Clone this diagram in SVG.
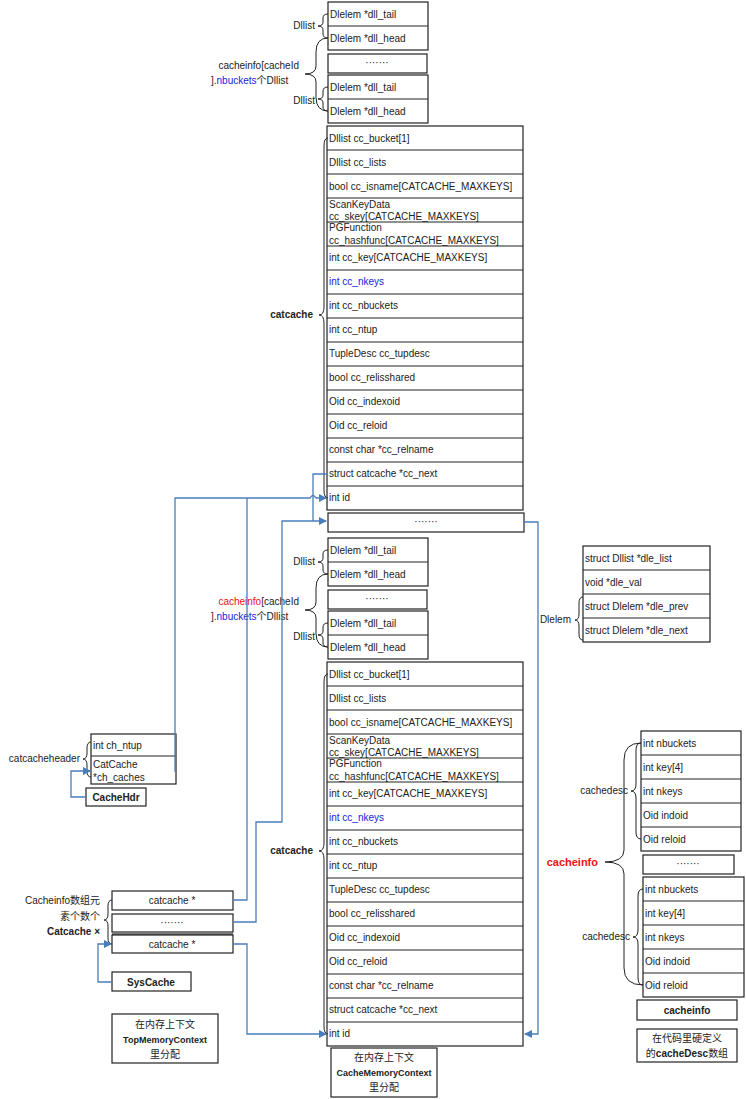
<svg xmlns="http://www.w3.org/2000/svg" width="746" height="1099" viewBox="0 0 746 1099">
<style>
text{font-family:"Liberation Sans","Noto Sans CJK SC",sans-serif;font-size:10px;fill:#222}
.b{fill:#fff;stroke:#222;stroke-width:1.2}
.r{stroke:#222;stroke-width:1}
.br{fill:none;stroke:#222;stroke-width:1}
.bl{fill:#1a1adb}
.red{fill:#f01010}
.bd{font-weight:bold}
.c{fill:none;stroke:#4a7ebb;stroke-width:1.3}
.m{text-anchor:middle}
.e{text-anchor:end}
</style>
<defs>
<marker id="a" markerWidth="8" markerHeight="8" refX="7" refY="4" orient="auto" markerUnits="userSpaceOnUse"><path d="M0,0L8,4L0,8z" fill="#4a7ebb"/></marker>
<g id="dll">
<rect class="b" x="328" y="2" width="100" height="48"/><line class="r" x1="328" y1="26" x2="428" y2="26"/>
<text x="330" y="18">Dlelem *dll_tail</text><text x="330" y="42">Dlelem *dll_head</text>
<path class="br" d="M328,14Q323,14 323,18L323,22Q323,26 318,26Q323,26 323,30L323,34Q323,38 328,38"/>
<text x="315" y="29" class="e">Dllist</text>
<rect class="b" x="328" y="54" width="99" height="19"/><text x="377" y="66" class="m">·······</text>
<rect class="b" x="328" y="75" width="100" height="48"/><line class="r" x1="328" y1="99" x2="428" y2="99"/>
<text x="330" y="91">Dlelem *dll_tail</text><text x="330" y="115">Dlelem *dll_head</text>
<path class="br" d="M328,87Q323,87 323,91L323,95Q323,99 318,99Q323,99 323,103L323,107Q323,111 328,111"/>
<text x="315" y="104" class="e">Dllist</text>
<path class="br" d="M328,38Q316,38 316,52L316,66Q316,74 305,74Q316,74 316,82L316,97Q316,111 328,111"/>
</g>
<g id="cc">
<rect class="b" x="327" y="126" width="196" height="384"/>
<g class="r">
<line x1="327" y1="150" x2="523" y2="150"/><line x1="327" y1="174" x2="523" y2="174"/><line x1="327" y1="198" x2="523" y2="198"/><line x1="327" y1="222" x2="523" y2="222"/><line x1="327" y1="246" x2="523" y2="246"/><line x1="327" y1="270" x2="523" y2="270"/><line x1="327" y1="294" x2="523" y2="294"/><line x1="327" y1="318" x2="523" y2="318"/><line x1="327" y1="342" x2="523" y2="342"/><line x1="327" y1="366" x2="523" y2="366"/><line x1="327" y1="390" x2="523" y2="390"/><line x1="327" y1="414" x2="523" y2="414"/><line x1="327" y1="438" x2="523" y2="438"/><line x1="327" y1="462" x2="523" y2="462"/><line x1="327" y1="486" x2="523" y2="486"/>
</g>
<text x="329" y="142">Dllist cc_bucket[1]</text>
<text x="329" y="166">Dllist cc_lists</text>
<text x="329" y="190">bool cc_isname[CATCACHE_MAXKEYS]</text>
<text x="329" y="208">ScanKeyData</text><text x="329" y="220">cc_skey[CATCACHE_MAXKEYS]</text>
<text x="329" y="231">PGFunction</text><text x="329" y="244">cc_hashfunc[CATCACHE_MAXKEYS]</text>
<text x="329" y="261">int cc_key[CATCACHE_MAXKEYS]</text>
<text x="329" y="285" class="bl">int cc_nkeys</text>
<text x="329" y="309">int cc_nbuckets</text>
<text x="329" y="333">int cc_ntup</text>
<text x="329" y="357">TupleDesc cc_tupdesc</text>
<text x="329" y="381">bool cc_relisshared</text>
<text x="329" y="405">Oid cc_indexoid</text>
<text x="329" y="429">Oid cc_reloid</text>
<text x="329" y="453">const char *cc_relname</text>
<text x="329" y="477">struct catcache *cc_next</text>
<text x="329" y="501">int id</text>
<path class="br" d="M328,138Q324,138 324,146L324,307Q324,315 319,315Q324,315 324,323L324,490Q324,498 328,498"/>
<text x="313" y="318" class="e bd">catcache</text>
</g>
</defs>
<g id="dllists1"><use href="#dll"/><text x="299" y="69" class="e">cacheinfo[cacheId</text><text x="211" y="84">].<tspan class="bl">nbuckets</tspan>个Dllist</text></g>
<g id="catcache1"><use href="#cc"/></g>
<g id="dots1"><rect class="b" x="328" y="513" width="196" height="19"/><text x="426" y="525" class="m">·······</text></g>
<g id="dllists2"><use href="#dll" transform="translate(0,536)"/><text x="299" y="605" class="e"><tspan class="red">cacheinfo</tspan>[cacheId</text><text x="211" y="620">].<tspan class="bl">nbuckets</tspan>个Dllist</text></g>
<g id="catcache2"><use href="#cc" transform="translate(0,536)"/></g>
<g id="mem2"><rect class="b" x="331" y="1048" width="106" height="49"/><text x="384" y="1061" class="m">在内存上下文</text><text x="384" y="1076" class="m bd" style="font-size:9px">CacheMemoryContext</text><text x="384" y="1091" class="m">里分配</text></g>
<g id="dlelem">
<rect class="b" x="583" y="546" width="127" height="96"/>
<line class="r" x1="583" y1="570" x2="710" y2="570"/><line class="r" x1="583" y1="594" x2="710" y2="594"/><line class="r" x1="583" y1="618" x2="710" y2="618"/>
<text x="585" y="562">struct Dllist *dle_list</text><text x="585" y="586">void *dle_val</text><text x="585" y="610">struct Dlelem *dle_prev</text><text x="585" y="634">struct Dlelem *dle_next</text>
<path class="br" d="M583,597Q579,597 579,603L579,614Q579,620 575,620Q579,620 579,626L579,634Q579,640 583,640"/>
<text x="571" y="623" class="e">Dlelem</text>
</g>
<g id="cachedesc1">
<rect class="b" x="641" y="731" width="100" height="120"/>
<line class="r" x1="641" y1="755" x2="741" y2="755"/><line class="r" x1="641" y1="779" x2="741" y2="779"/><line class="r" x1="641" y1="803" x2="741" y2="803"/><line class="r" x1="641" y1="827" x2="741" y2="827"/>
<text x="643" y="747">int nbuckets</text><text x="643" y="771">int key[4]</text><text x="643" y="795">int nkeys</text><text x="643" y="819">Oid indoid</text><text x="643" y="843">Oid reloid</text>
<path class="br" d="M641,743Q636,743 636,750L636,784Q636,791 631,791Q636,791 636,798L636,832Q636,839 641,839"/>
<text x="628" y="794" class="e">cachedesc</text>
</g>
<g id="dots3"><rect class="b" x="643" y="855" width="91" height="19"/><text x="688" y="867" class="m">·······</text></g>
<g id="cachedesc2">
<rect class="b" x="643" y="877" width="101" height="120"/>
<line class="r" x1="643" y1="901" x2="744" y2="901"/><line class="r" x1="643" y1="925" x2="744" y2="925"/><line class="r" x1="643" y1="949" x2="744" y2="949"/><line class="r" x1="643" y1="973" x2="744" y2="973"/>
<text x="645" y="893">int nbuckets</text><text x="645" y="917">int key[4]</text><text x="645" y="941">int nkeys</text><text x="645" y="965">Oid indoid</text><text x="645" y="989">Oid reloid</text>
<path class="br" d="M643,889Q638,889 638,896L638,930Q638,937 633,937Q638,937 638,944L638,978Q638,985 643,985"/>
<text x="630" y="940" class="e">cachedesc</text>
</g>
<g id="cacheinfo-brace">
<path class="br" d="M641,743Q624,743 624,760L624,850Q624,862 605,862Q624,862 624,874L624,968Q624,985 643,985"/>
<text x="598" y="866" class="e bd red" style="font-size:11px">cacheinfo</text>
</g>
<g id="cacheinfo-label"><rect class="b" x="637" y="1000" width="100" height="20"/><text x="687" y="1014" class="m bd">cacheinfo</text></g>
<g id="cacheinfo-note"><rect class="b" x="637" y="1029" width="100" height="33"/><text x="687" y="1042" class="m">在代码里硬定义</text><text x="687" y="1057" class="m">的<tspan class="bd">cacheDesc</tspan>数组</text></g>
<g id="cachehdr-struct">
<rect class="b" x="91" y="734" width="85" height="50"/><line class="r" x1="91" y1="756" x2="176" y2="756"/>
<text x="93" y="749">int ch_ntup</text><text x="93" y="768">CatCache</text><text x="93" y="781">*ch_caches</text>
<path class="br" d="M91,742Q87,742 87,748L87,753Q87,759 83,759Q87,759 87,765L87,771Q87,777 91,777"/>
<text x="80" y="762" class="e">catcacheheader</text>
</g>
<g id="CacheHdr"><rect class="b" x="86" y="788" width="60" height="18"/><text x="116" y="801" class="m bd">CacheHdr</text></g>
<g id="syscache-array">
<rect class="b" x="112" y="891" width="121" height="19"/><text x="172" y="904" class="m">catcache *</text>
<rect class="b" x="112" y="914" width="121" height="18"/><text x="172" y="926" class="m">·······</text>
<rect x="112" y="932" width="121" height="3" fill="#777"/>
<rect class="b" x="112" y="935" width="121" height="18"/><text x="172" y="948" class="m">catcache *</text>
<path class="br" d="M112,900Q108,900 108,906L108,914Q108,920 104,920Q108,920 108,926L108,938Q108,944 112,944"/>
<text x="100" y="904" class="e">Cacheinfo数组元</text><text x="100" y="920" class="e">素个数个</text><text x="100" y="935" class="e bd">Catcache ×</text>
</g>
<g id="SysCache"><rect class="b" x="112" y="972" width="79" height="19"/><text x="151" y="986" class="m bd">SysCache</text></g>
<g id="mem1"><rect class="b" x="112" y="1014" width="106" height="49"/><text x="165" y="1028" class="m">在内存上下文</text><text x="165" y="1043" class="m bd" style="font-size:9px">TopMemoryContext</text><text x="165" y="1058" class="m">里分配</text></g>
<g id="connectors">
<path class="c" d="M176,771H175V498H310Q313,493 316,498H326" marker-end="url(#a)"/>
<path class="c" d="M233,900H247V498"/>
<path class="c" d="M233,922H256V822H282V521H326" marker-end="url(#a)"/>
<path class="c" d="M327,474H313V521"/>
<path class="c" d="M524,522H538V1034H525" marker-end="url(#a)"/>
<path class="c" d="M233,944H247V1034H326" marker-end="url(#a)"/>
<path class="c" d="M86,797H71V771H90" marker-end="url(#a)"/>
<path class="c" d="M112,982H98V944H111" marker-end="url(#a)"/>
</g>
</svg>
